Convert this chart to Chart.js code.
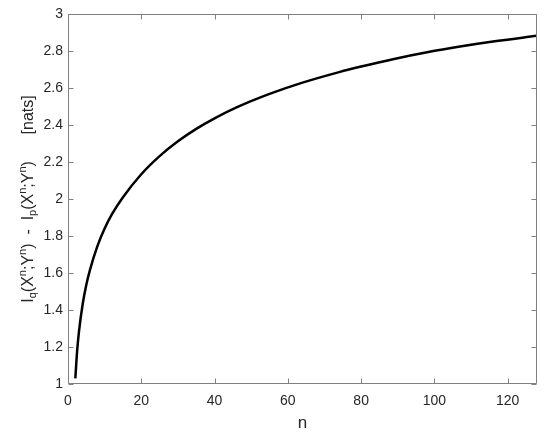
<!DOCTYPE html>
<html>
<head>
<meta charset="utf-8">
<script src="https://cdn.jsdelivr.net/npm/chart.js@4/dist/chart.umd.min.js"></script>
<style>
  html, body { margin: 0; padding: 0; background: #fff; }
  #wrap { width: 550px; height: 434px; }
</style>
</head>
<body>
<div id="wrap"><canvas id="myChart" width="550" height="434"></canvas></div>
<script>
// values
var nValues = [2, 2.5, 3, 4, 5, 6, 8, 10, 12, 15, 20, 25, 30, 35, 40, 46, 55, 64, 74, 80, 89, 98, 107, 116, 128];
var diffValues = [1.03, 1.18, 1.285, 1.431, 1.536, 1.617, 1.744, 1.840, 1.918, 2.01, 2.134, 2.232, 2.312, 2.379, 2.436, 2.495, 2.568, 2.629, 2.686, 2.716, 2.757, 2.793, 2.824, 2.851, 2.882];
var xTicks = [0, 20, 40, 60, 80, 100, 120];
var yTicks = [1, 1.2, 1.4, 1.6, 1.8, 2, 2.2, 2.4, 2.6, 2.8, 3];
var xTitle = 'n';
// y title pieces: [text, 'n' normal | 'sub' | 'sup']
var yTitle = [
  ['I', 'n'], ['q', 'sub'], ['(X', 'n'], ['n', 'sup'], [';Y', 'n'], ['n', 'sup'], [')  -  I', 'n'],
  ['p', 'sub'], ['(X', 'n'], ['n', 'sup'], [';Y', 'n'], ['n', 'sup'], [')      [nats]', 'n']
];

var points = [];
for (var i = 0; i < nValues.length; i++) points.push({x: nValues[i], y: diffValues[i]});

var fontFam = '"Liberation Sans", Arial, sans-serif';
var textColor = '#262626';
var boxColor = '#808080';

// box round the plot + inward ticks on every side, matlab style
var boxPlugin = {
  id: 'box',
  afterDraw: function(chart) {
    var ctx = chart.ctx, a = chart.chartArea;
    var x = chart.scales.x, y = chart.scales.y;
    var L = Math.round(a.left) + 0.5, R = Math.round(a.right) - 0.5;
    var T = Math.round(a.top) + 0.5, B = Math.round(a.bottom) - 0.5;
    ctx.save();
    ctx.strokeStyle = boxColor;
    ctx.lineWidth = 1;
    ctx.beginPath();
    ctx.rect(L, T, R - L, B - T);
    xTicks.forEach(function(v) {
      var px = Math.round(x.getPixelForValue(v)) + 0.5;
      ctx.moveTo(px, B); ctx.lineTo(px, B - 5);
      ctx.moveTo(px, T); ctx.lineTo(px, T + 5);
    });
    yTicks.forEach(function(v) {
      var py = Math.round(y.getPixelForValue(v)) + 0.5;
      ctx.moveTo(L, py); ctx.lineTo(L + 5, py);
      ctx.moveTo(R, py); ctx.lineTo(R - 5, py);
    });
    ctx.stroke();

    // y axis title with sub and superscripts
    var big = '16px ' + fontFam, small = '11px ' + fontFam;
    var total = 0;
    yTitle.forEach(function(p) {
      ctx.font = p[1] === 'n' ? big : small;
      total += ctx.measureText(p[0]).width;
    });
    ctx.translate(33, (a.top + a.bottom) / 2);
    ctx.rotate(-Math.PI / 2);
    ctx.fillStyle = textColor;
    ctx.textBaseline = 'alphabetic';
    ctx.textAlign = 'left';
    var cx = -total / 2;
    yTitle.forEach(function(p) {
      ctx.font = p[1] === 'n' ? big : small;
      var dy = p[1] === 'sub' ? 3 : (p[1] === 'sup' ? -7 : 0);
      ctx.fillText(p[0], cx, dy);
      cx += ctx.measureText(p[0]).width;
    });
    ctx.restore();
  }
};

var ctx = document.getElementById('myChart').getContext('2d');
var myChart = new Chart(ctx, {
  type: 'line',
  data: {
    datasets: [{
      data: points,
      borderColor: '#000000',
      borderWidth: 2.5,
      pointRadius: 0,
      fill: false,
      cubicInterpolationMode: 'monotone'
    }]
  },
  options: {
    responsive: false,
    animation: false,
    layout: { padding: { left: 0, top: 14, right: 13, bottom: 0 } },
    plugins: { legend: { display: false }, tooltip: { enabled: false } },
    scales: {
      x: {
        type: 'linear',
        min: 0, max: 128,
        afterBuildTicks: function(s) { s.ticks = xTicks.map(function(v) { return {value: v}; }); },
        afterFit: function(s) { s.height = 50; },
        grid: { display: false, drawTicks: false },
        border: { display: false },
        ticks: { padding: 9, color: textColor, font: { family: fontFam, size: 14 }, maxRotation: 0,
                 callback: function(v) { return String(v); } },
        title: { display: true, text: xTitle, color: textColor, font: { family: fontFam, size: 17 }, padding: { top: 0, bottom: 0 } }
      },
      y: {
        type: 'linear',
        min: 1, max: 3,
        afterBuildTicks: function(s) { s.ticks = yTicks.map(function(v) { return {value: v}; }); },
        afterFit: function(s) { s.width = 68; },
        grid: { display: false, drawTicks: false },
        border: { display: false },
        ticks: { padding: 5, color: textColor, font: { family: fontFam, size: 14 },
                 callback: function(v) { return String(v); } }
      }
    }
  },
  plugins: [boxPlugin]
});
</script>
</body>
</html>
